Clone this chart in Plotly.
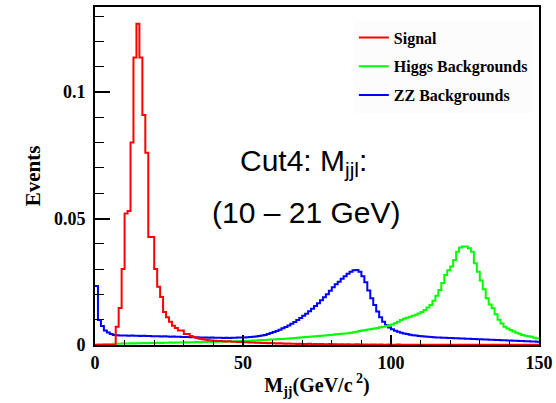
import plotly.graph_objects as go

# bin low edges (GeV), 1 GeV bins from 0 to 150
bin_low = list(range(0, 150))
x_max = 150

signal = [
    0, 0, 0, 0, 0, 0, 0, 0.0072, 0.0146, 0.030,
    0.052, 0.053, 0.080, 0.1136, 0.127, 0.1136, 0.0909, 0.076, 0.0427, 0.0427,
    0.030, 0.023, 0.019, 0.013, 0.011, 0.0092, 0.0076, 0.0067, 0.0057, 0.0057,
    0.0043, 0.0043, 0.0036, 0.0032, 0.0028, 0.0025, 0.0023, 0.0021, 0.0019, 0.0018,
    0.0017, 0.0016, 0.0016, 0.0015, 0.0014, 0.0015, 0.0013, 0.0013, 0.0012, 0.0012,
    0.0011, 0.0011, 0.0010, 0.0010, 0.0009, 0.0009, 0.0008, 0.0008, 0.0007, 0.0008,
    0.0007, 0.0006, 0.0007, 0.0006, 0.0005, 0.0006, 0.0005, 0.0005, 0.0004, 0.0005,
    0.0004, 0.0004, 0.0005, 0.0003, 0.0004, 0.0003, 0.0004, 0.0003, 0.0003, 0.0004,
    0.0003, 0.0003, 0.0002, 0.0003, 0.0002, 0.0003, 0.0002, 0.0002, 0.0003, 0.0002,
    0.0002, 0.0002, 0.0001, 0.0002, 0.0002, 0.0001, 0.0002, 0.0001, 0.0001, 0.0002,
    0.0001, 0.0001, 0.0002, 0.0001, 0.0001, 0.0001, 0.0001, 0.0001, 0.0001, 0.0001,
    0.0001, 0.0001, 0.0001, 0.0001, 0.0001, 0.0001, 0.0001, 0.0001, 0.0001, 0.0001,
    0.0001, 0.0001, 0.0001, 0.0001, 0.0001, 0.0001, 0.0001, 0.0001, 0.0001, 0.0001,
    0.0001, 0.0001, 0.0001, 0.0001, 0.0001, 0.0001, 0.0001, 0.0001, 0.0001, 0.0001,
    0.0001, 0.0001, 0.0001, 0.0001, 0.0001, 0.0001, 0.0001, 0.0001, 0.0001, 0.0001,
]

zz_bkg = [
    0.0233, 0.0099, 0.0075, 0.0057, 0.0049, 0.0043, 0.0040, 0.0039, 0.0038, 0.0038,
    0.0038, 0.0037, 0.0038, 0.0037, 0.0037, 0.0036, 0.0037, 0.0036, 0.0036, 0.0035,
    0.0035, 0.0035, 0.0034, 0.0035, 0.0034, 0.0033, 0.0034, 0.0033, 0.0033, 0.0032,
    0.0032, 0.0032, 0.0031, 0.0031, 0.0031, 0.0030, 0.0030, 0.0030, 0.0029, 0.0030,
    0.0029, 0.0029, 0.0029, 0.0028, 0.0029, 0.0028, 0.0029, 0.0029, 0.0030, 0.0030,
    0.0030, 0.0031, 0.0032, 0.0033, 0.0034, 0.0036, 0.0038, 0.0040, 0.0043, 0.0047,
    0.0051, 0.0055, 0.0060, 0.0066, 0.0071, 0.0077, 0.0084, 0.0091, 0.0099, 0.0107,
    0.0116, 0.0124, 0.0133, 0.0143, 0.0154, 0.0165, 0.0177, 0.0189, 0.0201, 0.0214,
    0.0228, 0.0240, 0.0250, 0.0262, 0.0272, 0.0282, 0.0290, 0.0295, 0.0296, 0.0290,
    0.0272, 0.0248, 0.0215, 0.0185, 0.0158, 0.0132, 0.0110, 0.0092, 0.0079, 0.0069,
    0.0062, 0.0056, 0.0052, 0.0048, 0.0045, 0.0043, 0.0041, 0.0039, 0.0038, 0.0036,
    0.0035, 0.0034, 0.0033, 0.0032, 0.0031, 0.0030, 0.0030, 0.0029, 0.0029, 0.0028,
    0.0028, 0.0027, 0.0027, 0.0026, 0.0026, 0.0025, 0.0025, 0.0024, 0.0024, 0.0023,
    0.0023, 0.0022, 0.0022, 0.0021, 0.0021, 0.0020, 0.0020, 0.0019, 0.0019, 0.0018,
    0.0018, 0.0017, 0.0017, 0.0016, 0.0016, 0.0015, 0.0015, 0.0014, 0.0014, 0.0013,
]

higgs_bkg = [
    0.0002, 0.0003, 0.0003, 0.0004, 0.0004, 0.0004, 0.0005, 0.0005, 0.0005, 0.0006,
    0.0006, 0.0006, 0.0007, 0.0006, 0.0007, 0.0007, 0.0008, 0.0007, 0.0008, 0.0008,
    0.0008, 0.0009, 0.0008, 0.0009, 0.0009, 0.0010, 0.0009, 0.0010, 0.0010, 0.0010,
    0.0011, 0.0010, 0.0011, 0.0011, 0.0012, 0.0011, 0.0012, 0.0012, 0.0013, 0.0012,
    0.0013, 0.0013, 0.0014, 0.0013, 0.0014, 0.0015, 0.0014, 0.0015, 0.0015, 0.0016,
    0.0016, 0.0017, 0.0017, 0.0018, 0.0018, 0.0019, 0.0020, 0.0020, 0.0021, 0.0022,
    0.0022, 0.0023, 0.0024, 0.0024, 0.0025, 0.0026, 0.0027, 0.0028, 0.0029, 0.0030,
    0.0031, 0.0032, 0.0033, 0.0034, 0.0035, 0.0036, 0.0037, 0.0038, 0.0039, 0.0040,
    0.0041, 0.0042, 0.0043, 0.0044, 0.0045, 0.0046, 0.0048, 0.0050, 0.0052, 0.0055,
    0.0057, 0.0059, 0.0061, 0.0063, 0.0065, 0.0067, 0.0070, 0.0072, 0.0075, 0.0078,
    0.0081, 0.0086, 0.0092, 0.0099, 0.0104, 0.0108, 0.0112, 0.0116, 0.0120, 0.0125,
    0.0130, 0.0138, 0.0148, 0.0158, 0.0175, 0.0195, 0.0217, 0.0245, 0.0277, 0.0295,
    0.0310, 0.0336, 0.0369, 0.0385, 0.0389, 0.0389, 0.0382, 0.0369, 0.0323, 0.0290,
    0.0255, 0.0220, 0.0185, 0.0160, 0.0145, 0.0122, 0.0100, 0.0085, 0.0072, 0.0065,
    0.0059, 0.0053, 0.0048, 0.0044, 0.0040, 0.0037, 0.0035, 0.0033, 0.0029, 0.0026,
]

series_names = ["Signal", "Higgs Backgrounds", "ZZ Backgrounds"]
series_colors = ["#ff0000", "#00ff00", "#0000ff"]

x_ticks = [0, 50, 100, 150]
y_ticks = [0, 0.05, 0.1]
y_max = 0.1336

x_title = "M<sub>jj</sub>(GeV/c<sup> 2</sup>)"
y_title = "Events"
note_line1 = "Cut4: M<sub>jjl</sub>:"
note_line2 = "(10 \u2013 21 GeV)"

serif = "Liberation Serif"
sans = "Liberation Sans"

def step_xy(values):
    xs = bin_low + [x_max]
    ys = values + [values[-1]]
    return xs, ys

fig = go.Figure()
data_sets = [signal, higgs_bkg, zz_bkg]
draw_order = [2, 1, 0]
for i in draw_order:
    xs, ys = step_xy(data_sets[i])
    fig.add_trace(go.Scatter(
        x=xs, y=ys, mode="lines", name=series_names[i],
        line=dict(color=series_colors[i], width=2, shape="hv"),
        legendrank=i + 1, legendgroup=series_names[i],
    ))

fig.update_layout(
    width=556, height=403,
    margin=dict(l=95, r=17, t=7, b=58),
    paper_bgcolor="white", plot_bgcolor="white",
    showlegend=True,
    legend=dict(
        x=0.583, y=0.96, xanchor="left", yanchor="top",
        bgcolor="#fcfcfc", borderwidth=0,
        font=dict(family=serif, size=16, color="black", weight="bold"),
        tracegroupgap=5,
    ),
    annotations=[
        dict(text=note_line1, x=0.47, y=0.54, xref="paper", yref="paper",
             showarrow=False, font=dict(family=sans, size=30, color="black")),
        dict(text=note_line2, x=0.476, y=0.393, xref="paper", yref="paper",
             showarrow=False, font=dict(family=sans, size=30, color="black")),
    ],
)

fig.update_xaxes(
    range=[0, x_max], tickvals=x_ticks, ticktext=[str(v) for v in x_ticks],
    automargin=False,
    ticks="inside", ticklen=10, tickwidth=1.5, tickcolor="black",
    minor=dict(dtick=10, ticks="inside", ticklen=5, tickwidth=1, tickcolor="black"),
    showline=True, linecolor="black", linewidth=2, mirror=True,
    showgrid=False, zeroline=False,
    tickfont=dict(family=serif, size=18, color="black", weight="bold"),
    title=dict(text=x_title, standoff=6,
               font=dict(family=serif, size=20, color="black", weight="bold")),
)
fig.update_yaxes(
    range=[0, y_max], tickvals=y_ticks, ticktext=["0", "0.05", "0.1"],
    automargin=False,
    ticks="inside", ticklen=15, tickwidth=1.5, tickcolor="black",
    minor=dict(dtick=0.01, ticks="inside", ticklen=9, tickwidth=1, tickcolor="black"),
    showline=True, linecolor="black", linewidth=2, mirror=True,
    showgrid=False, zeroline=False,
    tickfont=dict(family=serif, size=18, color="black", weight="bold"),
    ticklabelstandoff=4,
    title=dict(text=y_title, standoff=8,
               font=dict(family=serif, size=21, color="black", weight="bold")),
)

fig.write_html("out.html", config={"displayModeBar": False},
               post_script="document.body.style.margin='0';")
